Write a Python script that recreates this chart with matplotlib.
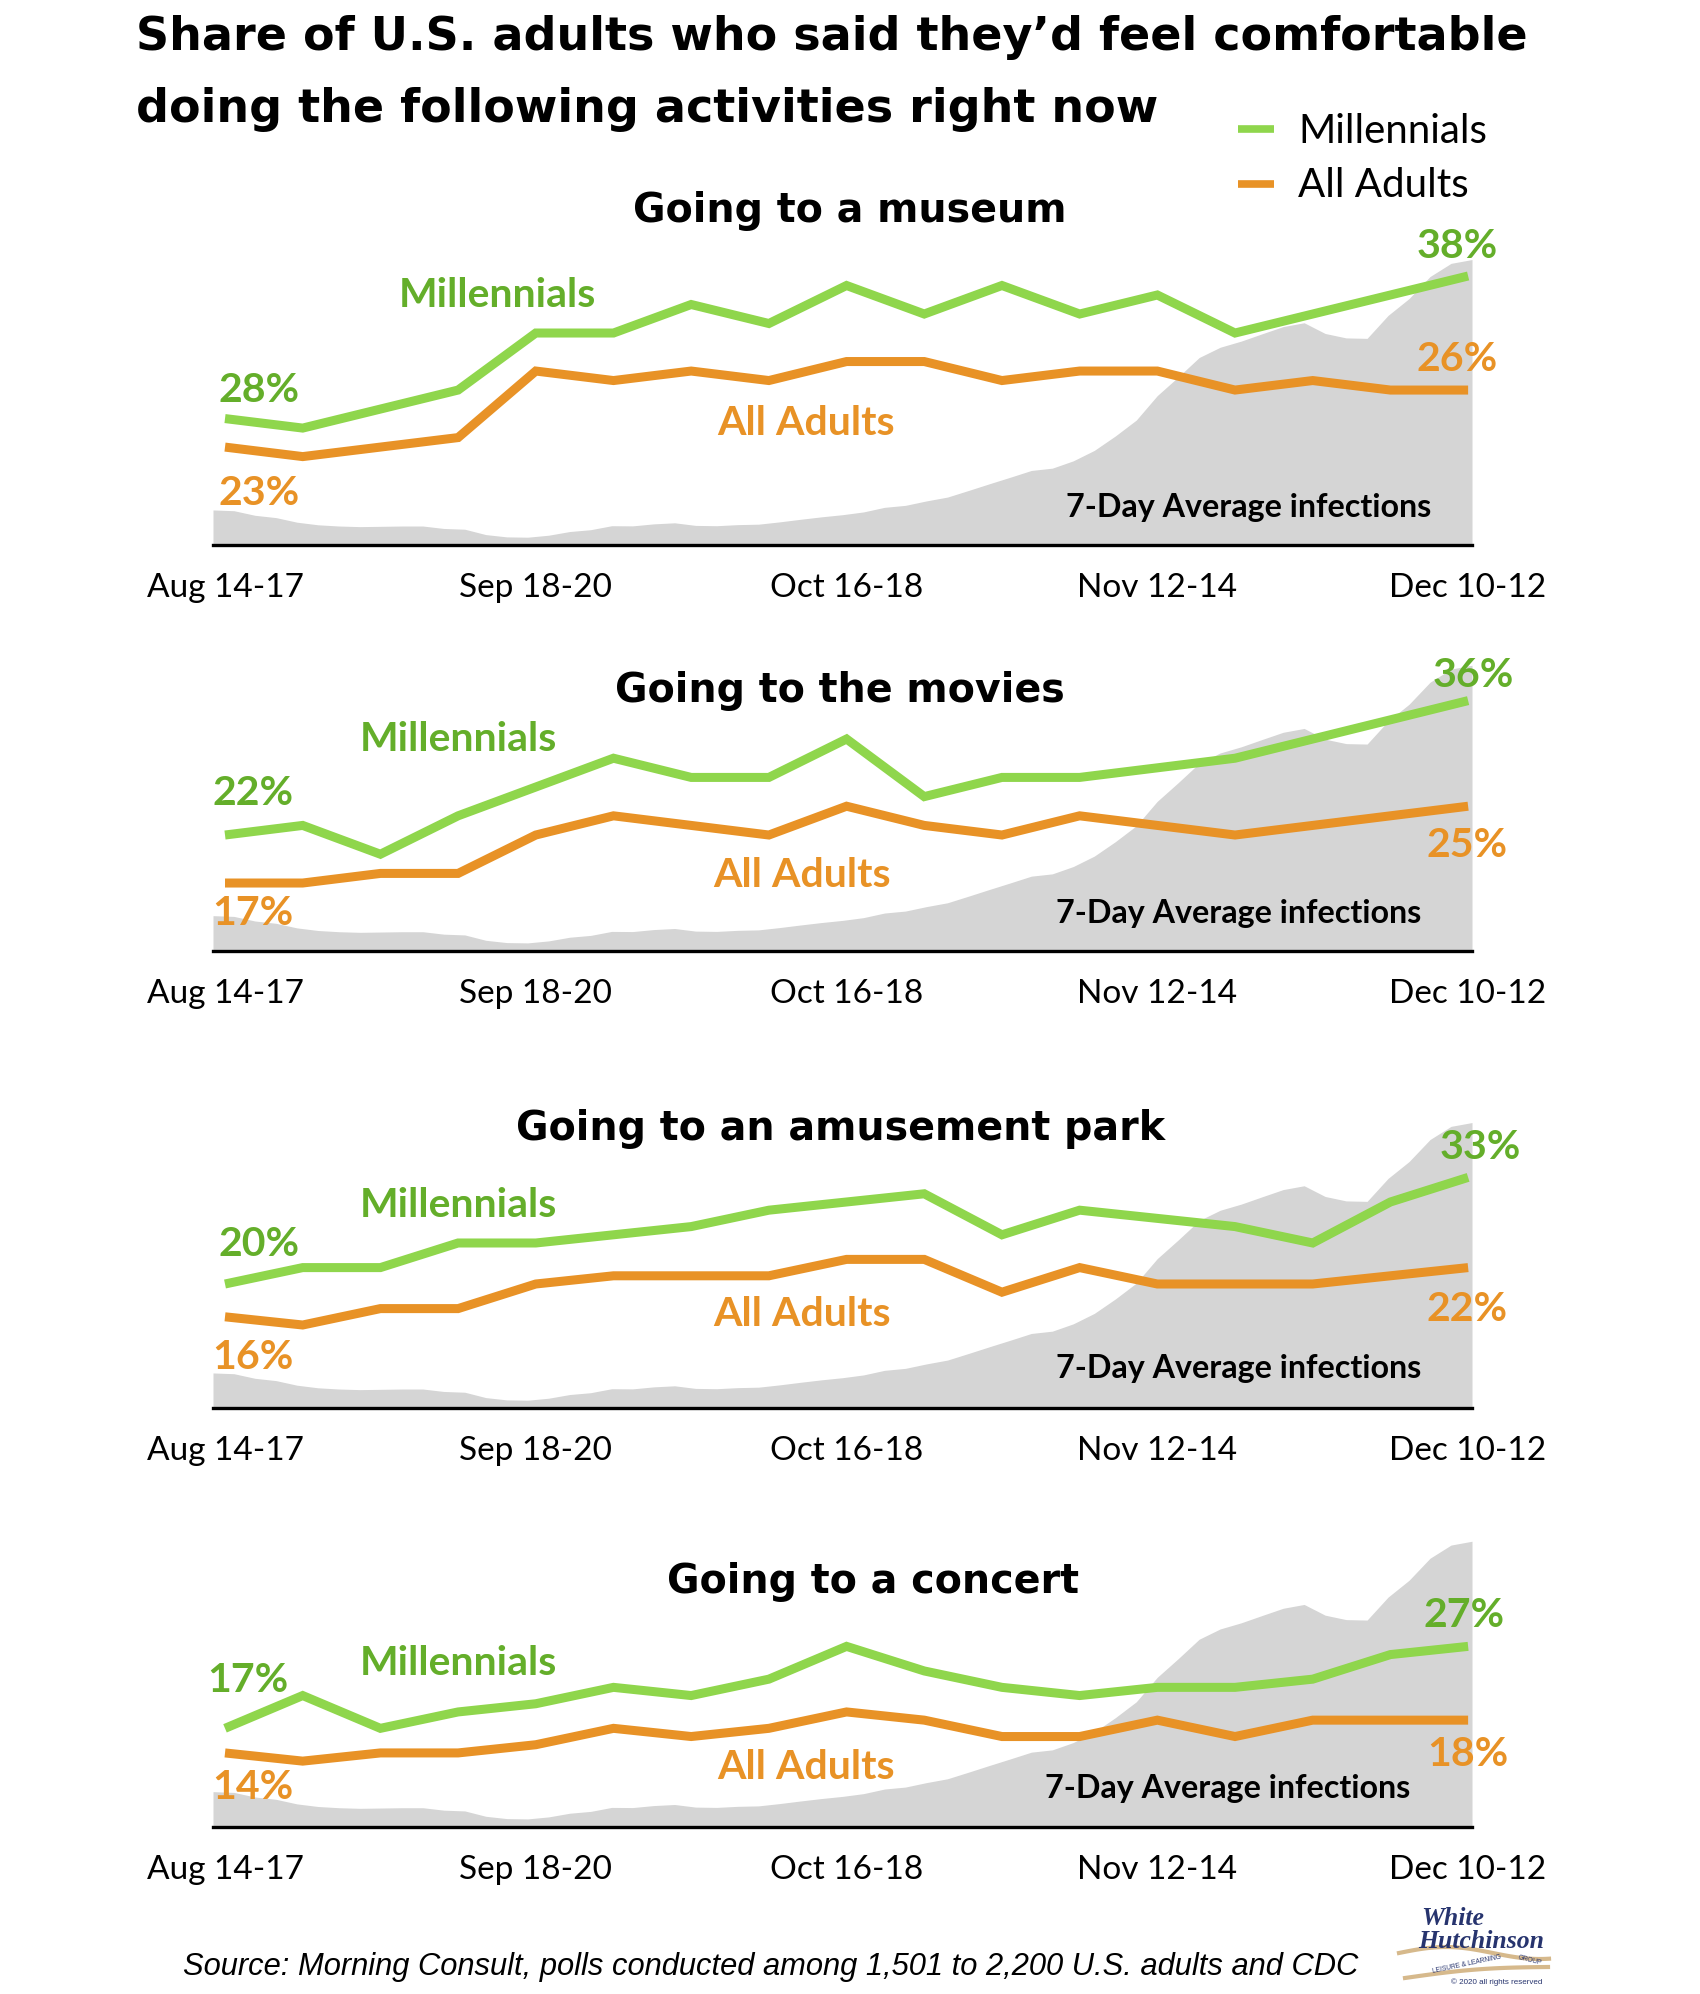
import numpy as np
import matplotlib.pyplot as plt
from matplotlib.lines import Line2D

W, H = 1700, 1994
plt.rcParams['font.family'] = ['Lato', 'DejaVu Sans']

GREEN = '#8FD64C'
GREEN_TXT = '#64AE2A'
ORANGE = '#E89226'
GRAY = '#D5D5D5'
NAVY = '#27346E'

# poll waves (17 weekly polls), labelled every 4th
poll_idx = np.arange(17)
tick_labels = ['Aug 14-17', 'Sep 18-20', 'Oct 16-18', 'Nov 12-14', 'Dec 10-12']

# CDC 7-day average of new infections (thousands), every 2nd day from Aug 13
infection_days = np.arange(0, 121, 2)
infections_k = [52.9, 52.4, 49.4, 47.9, 44.9, 43.2, 42.4, 42.0, 42.2, 42.4,
                42.4, 40.8, 40.3, 36.8, 35.3, 35.1, 36.4, 38.8, 40.0, 42.6,
                42.5, 43.8, 44.5, 42.8, 42.6, 43.3, 43.6, 45.1, 46.8, 48.4,
                49.8, 51.6, 54.6, 55.9, 58.8, 61.3, 65.6, 70.0, 74.3, 78.7,
                80.2, 85.0, 91.8, 101.2, 111.6, 127.6, 139.8, 152.5, 159.2, 163.2,
                168.0, 172.7, 175.2, 168.2, 165.3, 165.0, 180.0, 191.0, 205.4, 214.0,
                216.5]

museum_mill = [23, 22, 24, 26, 32, 32, 35, 33, 37, 34, 37, 34, 36, 32, 34, 36, 38]
museum_all = [20, 19, 20, 21, 28, 27, 28, 27, 29, 29, 27, 28, 28, 26, 27, 26, 26]
movies_mill = [22, 23, 20, 24, 27, 30, 28, 28, 32, 26, 28, 28, 29, 30, 32, 34, 36]
movies_all = [17, 17, 18, 18, 22, 24, 23, 22, 25, 23, 22, 24, 23, 22, 23, 24, 25]
park_mill = [20, 22, 22, 25, 25, 26, 27, 29, 30, 31, 26, 29, 28, 27, 25, 30, 33]
park_all = [16, 15, 17, 17, 20, 21, 21, 21, 23, 23, 19, 22, 20, 20, 20, 21, 22]
concert_mill = [17, 21, 17, 19, 20, 22, 21, 23, 27, 24, 22, 21, 22, 22, 23, 26, 27]
concert_all = [14, 13, 14, 14, 15, 17, 16, 17, 19, 18, 16, 16, 18, 16, 18, 18, 18]

titles = ['Going to a museum', 'Going to the movies',
          'Going to an amusement park', 'Going to a concert']
start_labels = [('28%', '23%'), ('22%', '17%'), ('20%', '16%'), ('17%', '14%')]
end_labels = [('38%', '26%'), ('36%', '25%'), ('33%', '22%'), ('27%', '18%')]
series = [(museum_mill, museum_all), (movies_mill, movies_all),
          (park_mill, park_all), (concert_mill, concert_all)]

# layout, in pixels of the 1700x1994 canvas
layout = [
    dict(base=545, ylim=(9.7, 41.26), title=(850, 221.7), mill=(497, 306.7), adults=(806, 435),
         s_m=(218.7, 401.7), s_a=(218.7, 505), e_m=(1416.6, 258), e_a=(1416.6, 370.7), inf=(1431, 516.7)),
    dict(base=950.7, ylim=(9.95, 41.2), title=(840, 701.7), mill=(458, 750.7), adults=(802, 886.7),
         s_m=(212.4, 805), s_a=(212.4, 925), e_m=(1433, 686.7), e_a=(1426, 856.7), inf=(1421, 923.3)),
    dict(base=1408, ylim=(4.88, 41.46), title=(840.3, 1140), mill=(458, 1217.3), adults=(802, 1326),
         s_m=(218.7, 1256), s_a=(212.4, 1369.3), e_m=(1440, 1159.3), e_a=(1426, 1320.7), inf=(1421, 1378.3)),
    dict(base=1826.7, ylim=(5.0, 41.6), title=(872.6, 1593.3), mill=(458, 1675), adults=(806, 1779.3),
         s_m=(207.5, 1691.7), s_a=(212.4, 1799.3), e_m=(1423.7, 1627.3), e_a=(1427, 1766), inf=(1410, 1798)),
]
AX_LEFT, AX_RIGHT, AX_H = 213, 1472, 300
TITLE_FONT = 'DejaVu Sans'


def fx(x):
    return x / W


def fy(y):
    return 1 - y / H


def ftext(xy, s, **kw):
    fig.text(fx(xy[0]), fy(xy[1]), s, va='baseline', **kw)


fig = plt.figure(figsize=(W / 100, H / 100), dpi=100)

for i, lay in enumerate(layout):
    rect = [fx(AX_LEFT), fy(lay['base']), (AX_RIGHT - AX_LEFT) / W, AX_H / H]

    # infection area in the background
    axg = fig.add_axes(rect)
    axg.fill_between(infection_days, infections_k, 30, color=GRAY, lw=0)
    axg.set_xlim(0, 120)
    axg.set_ylim(30, 226)
    axg.axis('off')

    ax = fig.add_axes(rect, facecolor='none')
    mill, adults = series[i]
    ax.plot(poll_idx, mill, color=GREEN, lw=6.5, solid_joinstyle='miter', solid_capstyle='butt')
    ax.plot(poll_idx, adults, color=ORANGE, lw=6.5, solid_joinstyle='miter', solid_capstyle='butt')
    ax.set_xlim(-0.1545, 16.05)
    ax.set_ylim(*lay['ylim'])
    for s in ['top', 'left', 'right']:
        ax.spines[s].set_visible(False)
    ax.spines['bottom'].set_linewidth(2.4)
    ax.spines['bottom'].set_color('black')
    ax.set_yticks([])
    ax.set_xticks(poll_idx[::4])
    ax.set_xticklabels(tick_labels, fontsize=24)
    ax.tick_params(axis='x', length=0, pad=20.5)

    ftext(lay['title'], titles[i], ha='center', fontsize=28.5, fontweight='bold', family=TITLE_FONT)
    ftext(lay['mill'], 'Millennials', ha='center', fontsize=29.5, fontweight='bold', color=GREEN_TXT)
    ftext(lay['adults'], 'All Adults', ha='center', fontsize=29.5, fontweight='bold', color=ORANGE)
    ftext(lay['s_m'], start_labels[i][0], ha='left', fontsize=29.5, fontweight='bold', color=GREEN_TXT)
    ftext(lay['s_a'], start_labels[i][1], ha='left', fontsize=29.5, fontweight='bold', color=ORANGE)
    ftext(lay['e_m'], end_labels[i][0], ha='left', fontsize=29.5, fontweight='bold', color=GREEN_TXT)
    ftext(lay['e_a'], end_labels[i][1], ha='left', fontsize=29.5, fontweight='bold', color=ORANGE)
    ftext(lay['inf'], '7-Day Average infections', ha='right', fontsize=23.2, fontweight='bold')

# main title
ftext((136, 50), 'Share of U.S. adults who said they\u2019d feel comfortable',
      ha='left', fontsize=33.1, fontweight='bold', family=TITLE_FONT)
ftext((136, 122), 'doing the following activities right now',
      ha='left', fontsize=33.1, fontweight='bold', family=TITLE_FONT)

# legend
for y, col, lab, base in [(129, GREEN, 'Millennials', 142.7), (184, ORANGE, 'All Adults', 197.3)]:
    fig.add_artist(Line2D([fx(1238), fx(1274)], [fy(y), fy(y)], color=col, lw=5.5,
                          solid_capstyle='butt', transform=fig.transFigure))
    ftext((1298, base), lab, ha='left', fontsize=29)

# source
ftext((183, 1975), 'Source: Morning Consult, polls conducted among 1,501 to 2,200 U.S. adults and CDC',
      ha='left', fontsize=22.2, style='italic', family='Liberation Sans')

# logo
ftext((1421, 1925), 'White', ha='left', fontsize=18.5, fontweight='bold', style='italic',
      family='Liberation Serif', color=NAVY)
ftext((1418, 1948), 'Hutchinson', ha='left', fontsize=18.5, fontweight='bold', style='italic',
      family='Liberation Serif', color=NAVY)
t = np.linspace(0, 1, 60)
up_x = 1399 + 150 * t
up_y = 1953 - 6 * np.sin(np.pi * t * 1.6)
lo_x = 1405 + 143 * t
lo_y = 1978 - 11 * t - 3 * np.sin(np.pi * t)
for xs, ys in [(up_x, up_y), (lo_x, lo_y)]:
    fig.add_artist(Line2D(fx(xs), fy(ys), color='#D6B98C', lw=3, transform=fig.transFigure))
fig.text(fx(1467), fy(1964), 'LEISURE & LEARNING', fontsize=4.8, color=NAVY, rotation=12,
         ha='center', va='center', family='Liberation Sans')
fig.text(fx(1530), fy(1960), 'GROUP', fontsize=4.8, color=NAVY, rotation=-14,
         ha='center', va='center', family='Liberation Sans')
ftext((1451, 1984), '\u00a9 2020 all rights reserved', ha='left', fontsize=5.8,
      color=NAVY, family='Liberation Sans')

fig.savefig('out.png', dpi=100)
